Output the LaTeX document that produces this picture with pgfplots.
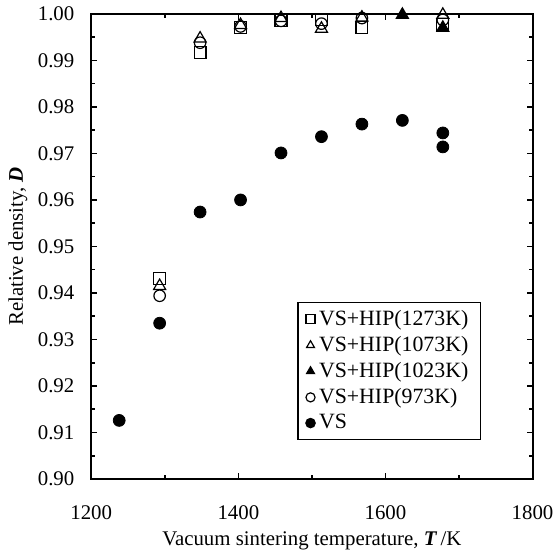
\documentclass[border=0pt]{standalone}
\usepackage{fontspec}
\setmainfont{Liberation Serif}
\usepackage{pgfplots}
\pgfplotsset{compat=1.18}
\begin{document}
\begin{tikzpicture}[font=\fontsize{10.5}{12}\selectfont]
\begin{axis}[
  scale only axis,
  width=222.5pt, height=234.5pt,
  xmin=1200, xmax=1800, ymin=0.90, ymax=1.00,
  clip=false,
  xtick={1200,1400,1600,1800},
  minor xtick={1300,1500,1700},
  ytick={0.90,0.91,0.92,0.93,0.94,0.95,0.96,0.97,0.98,0.99,1.00},
  minor ytick={0.905,0.915,0.925,0.935,0.945,0.955,0.965,0.975,0.985,0.995},
  /pgf/number format/assume math mode=true,
  xticklabel style={/pgf/number format/1000 sep={}, yshift=-10pt},
  yticklabel style={/pgf/number format/.cd, fixed, fixed zerofill, precision=2, /tikz/.cd, xshift=-5pt},
  tick align=inside,
  major tick length=3pt, minor tick length=2pt,
  tick style={black, line width=0.8pt},
  axis line style={line width=1pt},
  xlabel={Vacuum sintering temperature, \textbf{\textit{T}}\,/K},
  ylabel={Relative density, \textbf{\textit{D}}},
  every axis x label/.style={at={([yshift=-31pt]axis description cs:0.5,0)}, anchor=center},
  every axis y label/.style={at={([xshift=-37pt]axis description cs:0,0.5)}, anchor=center, rotate=90},
  legend style={at={(0.467,0.083)}, anchor=south west, draw=black, line width=0.7pt,
    font=\fontsize{11}{13}\selectfont, row sep=0pt, inner xsep=4pt, inner ysep=2pt},
  legend cell align=left,
  legend image post style={mark size=2.3pt},
]

% VS+HIP(1273K)
\addplot[only marks, mark=square, mark size=3pt, mark options={line width=0.6pt, fill=white}] coordinates {
  (1293,0.9431) (1348,0.9917) (1403,0.9971) (1458,0.9985) (1513,0.9987) (1568,0.9971) (1678,0.9977)
};
\addlegendentry{VS+HIP(1273K)}

% VS+HIP(1073K)
\addplot[only marks, mark=triangle, mark size=3.5pt, mark options={line width=0.6pt, fill=white}] coordinates {
  (1293,0.9415) (1348,0.9947) (1403,0.9976) (1458,0.9991) (1513,0.9968) (1568,0.9992) (1678,0.9998)
};
\addlegendentry{VS+HIP(1073K)}

% VS+HIP(1023K)
\addplot[only marks, mark=triangle*, mark size=3.5pt, mark options={line width=0.6pt, fill=black}] coordinates {
  (1623,0.9998) (1678,0.9970)
};
\addlegendentry{VS+HIP(1023K)}

% VS+HIP(973K)
\addplot[only marks, mark=o, mark size=2.9pt, mark options={line width=0.6pt, fill=white}] coordinates {
  (1293,0.9394) (1348,0.9938) (1403,0.9973) (1458,0.9985) (1513,0.9979) (1568,0.9991) (1678,0.9987)
};
\addlegendentry{VS+HIP(973K)}

% VS
\addplot[only marks, mark=*, mark size=3pt, mark options={fill=black}] coordinates {
  (1238,0.9126) (1293,0.9335) (1348,0.9574) (1403,0.9600) (1458,0.9701)
  (1513,0.9736) (1568,0.9763) (1623,0.9771) (1678,0.9744) (1678,0.9714)
};
\addlegendentry{VS}

\end{axis}
% page margins as in the reference
\path ([shift={(-46pt,-38pt)}]current axis.south west) rectangle ([shift={(11.5pt,7pt)}]current axis.north east);
\end{tikzpicture}
\end{document}
